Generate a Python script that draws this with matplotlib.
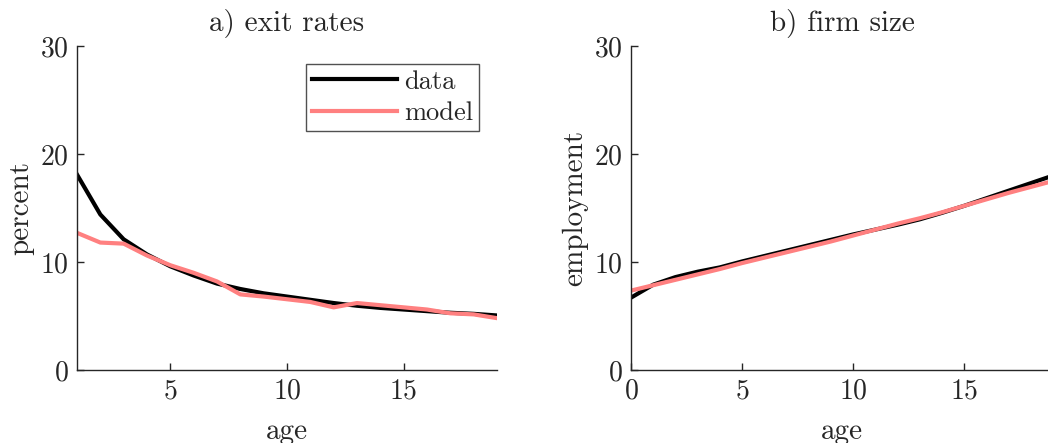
import matplotlib
matplotlib.use("Agg")
import matplotlib.pyplot as plt

plt.rcParams["font.family"] = ["cmr10", "DejaVu Serif"]
plt.rcParams["mathtext.fontset"] = "cm"
plt.rcParams["axes.unicode_minus"] = False
plt.rcParams["axes.formatter.use_mathtext"] = True

# exit rates by firm age
age_exit = list(range(1, 20))
exit_data = [18.1, 14.4, 12.1, 10.7, 9.6, 8.75, 8.0, 7.5, 7.1, 6.8,
             6.5, 6.2, 5.95, 5.75, 5.6, 5.45, 5.3, 5.2, 5.05]
exit_model = [12.7, 11.8, 11.7, 10.6, 9.7, 9.0, 8.2, 7.0, 6.8, 6.55,
              6.3, 5.8, 6.2, 6.0, 5.8, 5.6, 5.25, 5.15, 4.8]

# average employment by firm age
age_size = list(range(0, 20))
size_data = [6.7, 7.9, 8.6, 9.1, 9.5, 10.05, 10.55, 11.05, 11.55, 12.05,
             12.55, 13.0, 13.45, 13.95, 14.55, 15.2, 15.9, 16.6, 17.3, 18.0]
size_model = [7.35, 7.85, 8.35, 8.85, 9.35, 9.9, 10.4, 10.9, 11.4, 11.9,
              12.45, 13.0, 13.55, 14.05, 14.6, 15.2, 15.8, 16.4, 16.95, 17.5]

BLACK = "#000000"
PINK = "#ff8080"
AXC = "#262626"
FS_TICK = 20
FS_LABEL = 21

W, H = 1048, 443
fig = plt.figure(figsize=(W / 100, H / 100), dpi=100)

def px_axes(x0, x1, y0, y1):
    return fig.add_axes([x0 / W, 1 - y1 / H, (x1 - x0) / W, (y1 - y0) / H])

ax1 = px_axes(77, 497, 46, 370)
ax2 = px_axes(631, 1053, 46, 370)

def style(ax):
    for s in ("top", "right"):
        ax.spines[s].set_visible(False)
    for s in ("left", "bottom"):
        ax.spines[s].set_color(AXC)
        ax.spines[s].set_linewidth(1.0)
    ax.tick_params(direction="in", length=5, width=1.0, color=AXC,
                   labelsize=FS_TICK, labelcolor=AXC, pad=6)
    ax.set_ylim(0, 30)
    ax.set_yticks([0, 10, 20, 30])

ax1.plot(age_exit, exit_data, color=BLACK, lw=3, label="data")
ax1.plot(age_exit, exit_model, color=PINK, lw=3, label="model")
style(ax1)
ax1.set_xlim(1, 19)
ax1.set_xticks([5, 10, 15])
ax1.set_title("a) exit rates", fontsize=FS_LABEL, color=AXC, pad=11)
ax1.set_xlabel("age", fontsize=FS_LABEL, color=AXC, labelpad=10)
ax1.set_ylabel("percent", fontsize=FS_LABEL, color=AXC, labelpad=4)
leg = ax1.legend(loc="upper right", bbox_to_anchor=(0.958, 0.944), fontsize=19,
                 frameon=True, fancybox=False, edgecolor=AXC, handlelength=3.2,
                 borderpad=0.22, labelspacing=0.3, handletextpad=0.3,
                 borderaxespad=0)
leg.get_frame().set_linewidth(1.0)
for t in leg.get_texts():
    t.set_color(AXC)

ax2.plot(age_size, size_data, color=BLACK, lw=3)
ax2.plot(age_size, size_model, color=PINK, lw=3)
style(ax2)
ax2.set_xlim(0, 19)
ax2.set_xticks([0, 5, 10, 15])
ax2.set_title("b) firm size", fontsize=FS_LABEL, color=AXC, pad=11)
ax2.set_xlabel("age", fontsize=FS_LABEL, color=AXC, labelpad=10)
ax2.set_ylabel("employment", fontsize=FS_LABEL, color=AXC, labelpad=4)

fig.savefig("out.png", dpi=100)
